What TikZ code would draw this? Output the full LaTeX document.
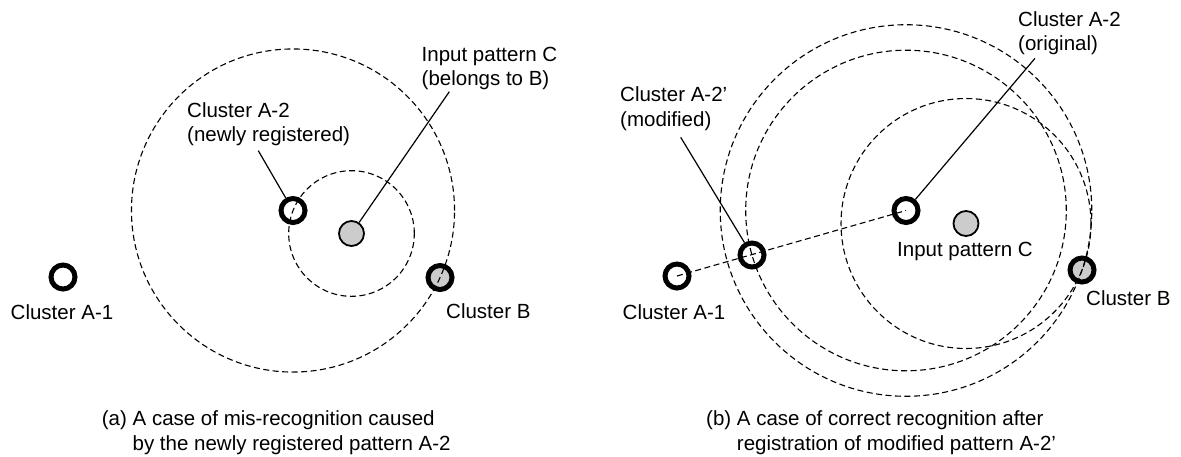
\documentclass[tikz,border=0pt]{standalone}
\usepackage{fontspec}
\setmainfont{Liberation Sans}
\usetikzlibrary{calc}
\begin{document}
\begin{tikzpicture}[x=1pt,y=-1pt,
  every node/.style={font=\fontsize{20.5}{24.5}\selectfont},
  ring/.style={circle,draw=black,line width=5pt,fill=white,inner sep=0pt,minimum size=24pt},
  ringgray/.style={ring,fill=black!20},
  inpat/.style={circle,draw=black,line width=1.8pt,fill=black!20,inner sep=0pt,minimum size=25pt},
  dcirc/.style={draw=black,line width=1.1pt,dash pattern=on 6pt off 3.5pt},
  leader/.style={draw=black,line width=1.2pt},
  lbl/.style={inner sep=0pt,align=left,anchor=base west},
  lblc/.style={inner sep=0pt,align=center,anchor=base}]
\useasboundingbox (0,0) rectangle (1181,456);
% ---------- panel (a) ----------
\node[ring] (A1a) at (63,277) {};
\node[ring] (A2a) at (293,210.5) {};
\node[inpat] (Ca) at (351.5,233.5) {};
\node[ringgray] (Ba) at (440,277.5) {};
\draw[dcirc] let \p1=($(Ba)-(A2a)$), \n1={veclen(\x1,\y1)} in (A2a.center) circle[radius=\n1];
\draw[dcirc] let \p1=($(A2a)-(Ca)$), \n1={veclen(\x1,\y1)} in (Ca.center) circle[radius=\n1];
% (base anchor of a two-line node = baseline of its last line)
\node[lblc] (tA1a) at (62,319) {Cluster A-1};
\node[lbl] (tA2a) at (187,141.8) {Cluster A-2\\(newly registered)};
\node[lbl] (tCa) at (421.5,85.5) {Input pattern C\\(belongs to B)};
\node[lbl] (tBa) at (446,318) {Cluster B};
\coordinate (pA2a) at (258.3,150.7);
\coordinate (pCa) at (449.3,91.7);
\draw[leader] (pA2a) -- (A2a);
\draw[leader] (pCa) -- (Ca);
\node[lbl] (capa) at (101.7,450) {(a) A case of mis-recognition caused\\\phantom{(a) }by the newly registered pattern A-2};
% ---------- panel (b) ----------
\node[ring] (A1b) at (677,276) {};
\node[ring] (A2pb) at (752,255) {};
\node[ring] (A2b) at (906,210.5) {};
\node[inpat] (Cb) at (966,223.5) {};
\node[ringgray] (Bb) at (1082,270) {};
\draw[dcirc] (A1b.center) -- (A2b.center);
\draw[dcirc] let \p1=($(Bb)-(A2b)$), \n1={veclen(\x1,\y1)} in (A2b.center) circle[radius=\n1];
\draw[dcirc] let \p1=($(A2pb)-(A2b)$), \n1={veclen(\x1,\y1)} in (A2b.center) circle[radius=\n1];
\draw[dcirc] let \p1=($(Bb)-(Cb)$), \n1={veclen(\x1,\y1)} in (Cb.center) circle[radius=\n1];
\node[lblc] (tA1b) at (674,319) {Cluster A-1};
\node[lbl] (tA2pb) at (620,126.2) {Cluster A-2’\\(modified)};
\node[lbl] (tA2b) at (1018,50.5) {Cluster A-2\\(original)};
\node[lbl] (tCb) at (897,256.5) {Input pattern C};
\node[lbl] (tBb) at (1086,305) {Cluster B};
\coordinate (pA2pb) at (680.7,137.3);
\coordinate (pA2b) at (1035,58.3);
\draw[leader] (pA2pb) -- (A2pb);
\draw[leader] (pA2b) -- (A2b);
\node[lbl] (capb) at (706,450) {(b) A case of correct recognition after\\\phantom{(b) }registration of modified pattern A-2’};
\end{tikzpicture}
\end{document}
